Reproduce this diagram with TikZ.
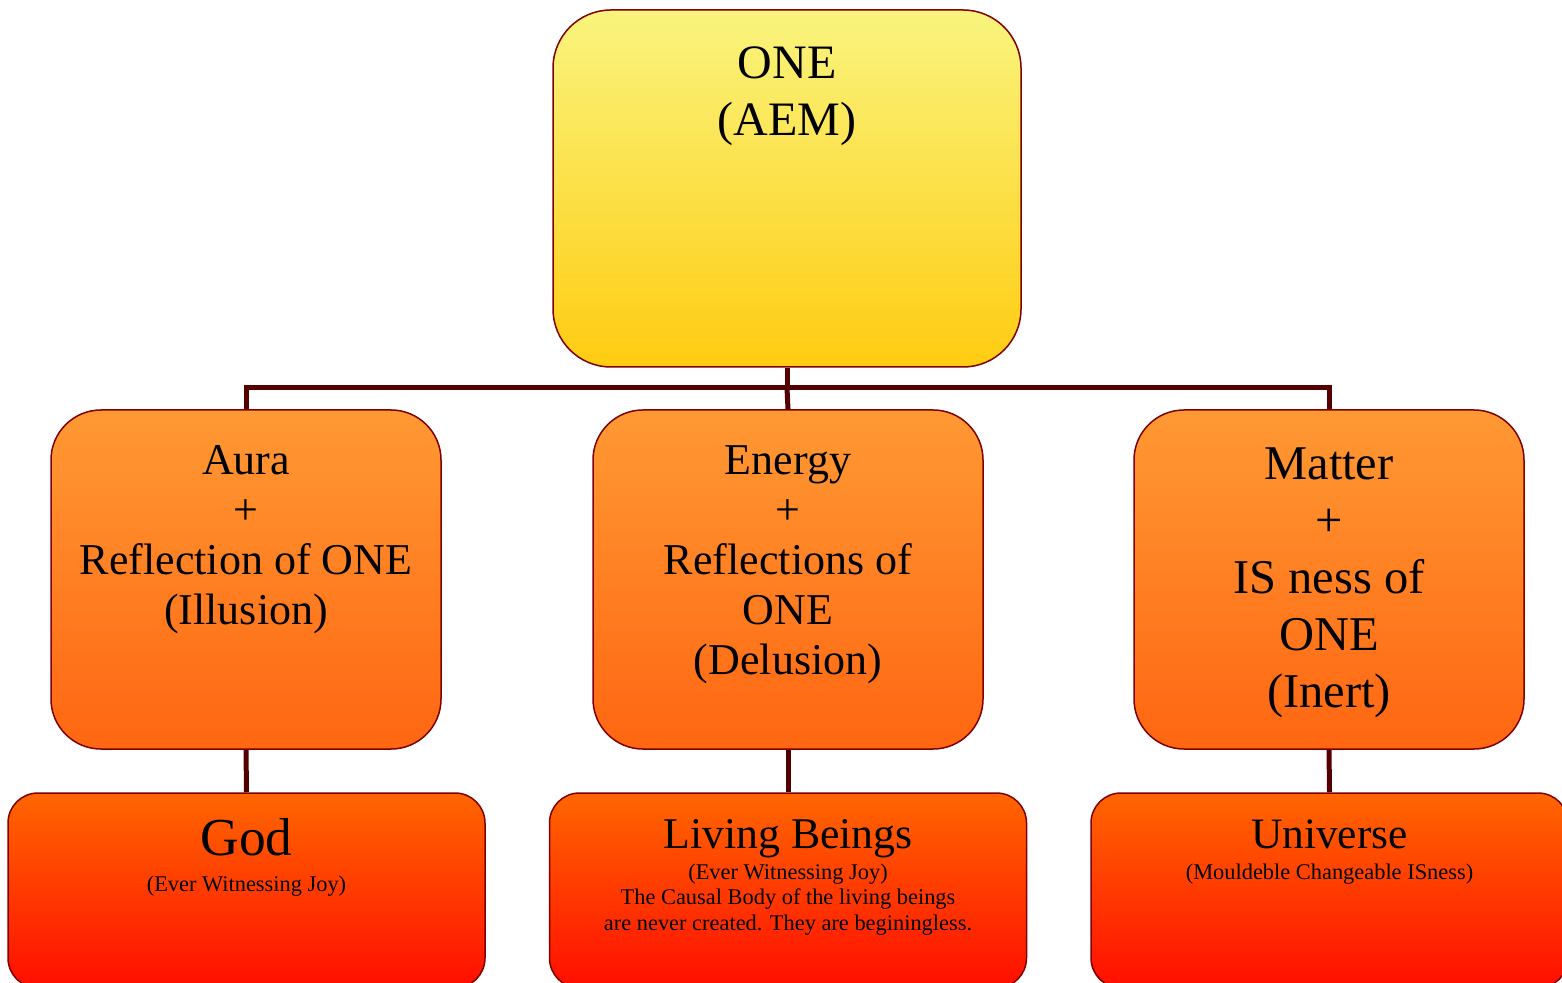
\documentclass[tikz,border=0pt]{standalone}
\usepackage{fontspec}
\setmainfont{Liberation Serif}
\usetikzlibrary{positioning,calc}
\definecolor{edgered}{RGB}{128,0,0}
\definecolor{linkred}{RGB}{85,0,0}
\definecolor{topyellow}{RGB}{249,244,126}
\definecolor{botyellow}{RGB}{255,204,17}
\definecolor{toporange}{RGB}{255,153,51}
\definecolor{botorange}{RGB}{255,102,17}
\definecolor{topred}{RGB}{255,102,0}
\definecolor{botred}{RGB}{255,14,0}

\begin{document}
\begin{tikzpicture}[x=0.5pt, y=-0.5pt]
  \tikzstyle{rootbox}=[rectangle, draw=edgered, line width=0.75pt, top color=topyellow, bottom color=botyellow, minimum width=234pt, minimum height=178.5pt, rounded corners=29pt]
  \tikzstyle{midbox}=[rectangle, draw=edgered, line width=0.75pt, top color=toporange, bottom color=botorange, minimum width=195pt, minimum height=169.5pt, rounded corners=25pt]
  \tikzstyle{leafbox}=[rectangle, draw=edgered, line width=0.75pt, top color=topred, bottom color=botred, minimum width=238.5pt, minimum height=97.5pt, rounded corners=15pt]
  \tikzstyle{rootlabel}=[font=\fontsize{24}{28.5}\selectfont, align=center, anchor=base, inner sep=0pt]
  \tikzstyle{midlabel}=[font=\fontsize{22}{25}\selectfont, align=center, anchor=base, inner sep=0pt]
  \tikzstyle{bigmidlabel}=[font=\fontsize{24.25}{28.5}\selectfont, align=center, anchor=base, inner sep=0pt]
  \tikzstyle{leaftitle}=[align=center, anchor=base, inner sep=0pt]
  \tikzstyle{leafnote}=[font=\fontsize{11.2}{12.75}\selectfont, align=center, anchor=base, inner sep=0pt]
  \tikzstyle{link}=[draw=linkred, line width=2.5pt]

  \useasboundingbox (0,0) rectangle (1562,983);

  % Boxes
  \node[rootbox] (one) at (787,188.5) {};
  \node[midbox] (aura) at (246,579.5) {};
  \node[midbox] (energy) at (788,579.5) {};
  \node[midbox] (matter) at (1329,579.5) {};
  \node[leafbox] (god) at (246.5,890.5) {};
  \node[leafbox] (living) at (788,890.5) {};
  \node[leafbox] (universe) at (1329.5,890.5) {};

  % Texts (placed by the baseline of the last line)
  \node[rootlabel] (one-text) at (787,136) {ONE\\(AEM)};
  \node[midlabel] (aura-text) at (246,624) {Aura\\+\\Reflection of ONE\\(Illusion)};
  \node[midlabel] (energy-text) at (788,674) {Energy\\+\\Reflections of\\ONE\\(Delusion)};
  \node[bigmidlabel] (matter-text) at (1329,707) {Matter\\+\\IS ness of\\ONE\\(Inert)};
  \node[leaftitle, font=\fontsize{26.7}{30}\selectfont] (god-title) at (246.5,855) {God};
  \node[leafnote] (god-note) at (246.5,891) {(Ever Witnessing Joy)};
  \node[leaftitle, font=\fontsize{21.9}{26}\selectfont] (living-title) at (788,848) {Living Beings};
  \node[leafnote] (living-note) at (788,930) {(Ever Witnessing Joy)\\The Causal Body of the living beings\\are never created. They are beginingless.};
  \node[leaftitle, font=\fontsize{21.7}{26}\selectfont] (universe-title) at (1329.5,848) {Universe};
  \node[leafnote] (universe-note) at (1329.5,879) {(Mouldeble Changeable ISness)};

  % Connectors
  \coordinate (bus) at (787,388);
  \draw[link] (one.south) -- (bus) -| (aura.north);
  \draw[link] (bus) -| (matter.north);
  \draw[link] (bus) -- (energy.north);
  \draw[link] (aura.south) -- (god.north);
  \draw[link] (energy.south) -- (living.north);
  \draw[link] (matter.south) -- (universe.north);
\end{tikzpicture}
\end{document}
